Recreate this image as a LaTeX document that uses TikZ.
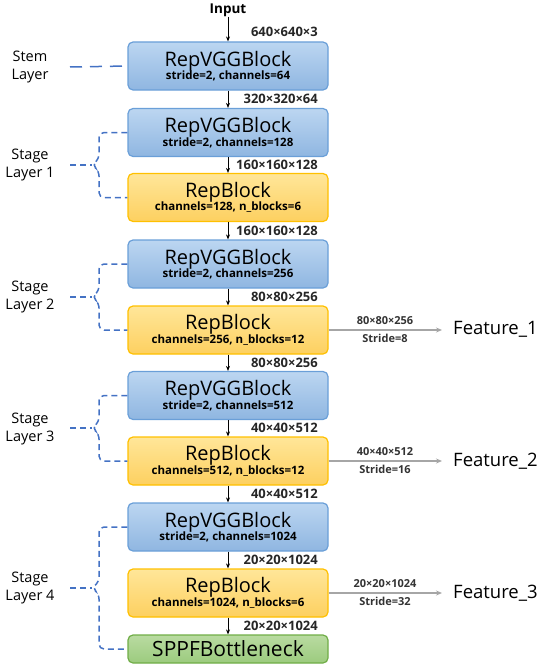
\documentclass[tikz,border=0pt]{standalone}
\usepackage{fontspec}
\setmainfont{Open Sans}
\usetikzlibrary{arrows.meta}
\definecolor{bborder}{HTML}{6A9FD8}
\definecolor{btop}{HTML}{BCD6F1}
\definecolor{bbot}{HTML}{8FB6E1}
\definecolor{yborder}{HTML}{FFC000}
\definecolor{ytop}{HTML}{FFE699}
\definecolor{ybot}{HTML}{FDD060}
\definecolor{gborder}{HTML}{70AD47}
\definecolor{gtop}{HTML}{B9DBA1}
\definecolor{gbot}{HTML}{9CCB7E}
\definecolor{dashblue}{HTML}{4472C4}
\definecolor{featgray}{HTML}{A6A6A6}
\tikzset{
  box/.style={rounded corners=5pt, minimum width=200pt, minimum height=48pt, line width=1.2pt, align=center, inner sep=0pt},
  bluebox/.style={box, draw=bborder, top color=btop, bottom color=bbot},
  yelbox/.style={box, draw=yborder, top color=ytop, bottom color=ybot},
  grnbox/.style={box, draw=gborder, top color=gtop, bottom color=gbot, minimum height=28pt},
  arr/.style={-{Stealth[length=5pt,width=4pt]}, line width=1pt, black},
  farr/.style={-{Stealth[length=6pt,width=5pt]}, line width=1.2pt, featgray},
  dim/.style={anchor=east, font=\fontsize{13}{13}\selectfont\bfseries, text=black!85, inner sep=0pt},
  fdim/.style={font=\fontsize{11}{13}\selectfont\bfseries, text=black!80, inner sep=0pt, align=center},
  feat/.style={anchor=west, font=\fontsize{18.5}{20}\selectfont, inner sep=0pt},
  side/.style={font=\fontsize{14.5}{18}\selectfont, align=center, inner sep=0pt},
  brace/.style={dashblue, line width=1.5pt, dash pattern=on 6pt off 4pt, rounded corners=5pt},
  stem/.style={dashblue, line width=1.5pt, dash pattern=on 12pt off 8pt},
}
\newcommand{\ttl}[1]{{\fontsize{20}{20}\selectfont #1}}
\newcommand{\sub}[1]{{\fontsize{11.5}{12}\selectfont\bfseries #1}}
\begin{document}
\begin{tikzpicture}[x=1pt,y=-1pt]
\useasboundingbox (0,0) rectangle (550,669);
% input
\node[font=\fontsize{13.5}{14}\selectfont\bfseries, inner sep=0pt] (input) at (228,10) {Input};
% boxes
\node[bluebox] (b1) at (228,66) {\ttl{RepVGGBlock}\\[-1pt]\sub{stride=2, channels=64}};
\node[bluebox] (b2) at (228,132.5) {\ttl{RepVGGBlock}\\[-1pt]\sub{stride=2, channels=128}};
\node[yelbox] (b3) at (228,197.5) {\ttl{RepBlock}\\[-1pt]\sub{channels=128, n\_blocks=6}};
\node[bluebox] (b4) at (228,264) {\ttl{RepVGGBlock}\\[-1pt]\sub{stride=2, channels=256}};
\node[yelbox] (b5) at (228,330) {\ttl{RepBlock}\\[-1pt]\sub{channels=256, n\_blocks=12}};
\node[bluebox] (b6) at (228,395.5) {\ttl{RepVGGBlock}\\[-1pt]\sub{stride=2, channels=512}};
\node[yelbox] (b7) at (228,461) {\ttl{RepBlock}\\[-1pt]\sub{channels=512, n\_blocks=12}};
\node[bluebox] (b8) at (228,527) {\ttl{RepVGGBlock}\\[-1pt]\sub{stride=2, channels=1024}};
\node[yelbox] (b9) at (228,593) {\ttl{RepBlock}\\[-1pt]\sub{channels=1024, n\_blocks=6}};
\node[grnbox, font=\fontsize{21}{21}\selectfont] (b10) at (228,649) {SPPFBottleneck};
% arrows
\draw[arr] (input) -- (b1);
\draw[arr] (b1) -- (b2);
\draw[arr] (b2) -- (b3);
\draw[arr] (b3) -- (b4);
\draw[arr] (b4) -- (b5);
\draw[arr] (b5) -- (b6);
\draw[arr] (b6) -- (b7);
\draw[arr] (b7) -- (b8);
\draw[arr] (b8) -- (b9);
\draw[arr] (b9) -- (b10);
% dimension labels
\node[dim] (d0) at (318,32) {640×640×3};
\node[dim] (d1) at (318,99) {320×320×64};
\node[dim] (d2) at (318,165) {160×160×128};
\node[dim] (d3) at (318,231) {160×160×128};
\node[dim] (d4) at (318,297) {80×80×256};
\node[dim] (d5) at (318,363) {80×80×256};
\node[dim] (d6) at (318,428) {40×40×512};
\node[dim] (d7) at (318,494) {40×40×512};
\node[dim] (d8) at (318,560) {20×20×1024};
\node[dim] (d9) at (318,626) {20×20×1024};
% features
\coordinate (f1e) at (442,330);
\coordinate (f2e) at (442,461);
\coordinate (f3e) at (442,593);
\draw[farr] (b5.east) -- (f1e);
\draw[farr] (b7.east) -- (f2e);
\draw[farr] (b9.east) -- (f3e);
\node[fdim] (fd1a) at (385,321) {80×80×256};
\node[fdim] (fd1b) at (385,338) {Stride=8};
\node[fdim] (fd2a) at (385,452) {40×40×512};
\node[fdim] (fd2b) at (385,469) {Stride=16};
\node[fdim] (fd3a) at (385,584) {20×20×1024};
\node[fdim] (fd3b) at (385,601) {Stride=32};
\node[feat] (F1) at (453,329) {Feature\_1};
\node[feat] (F2) at (453,461) {Feature\_2};
\node[feat] (F3) at (453,593) {Feature\_3};
% side labels
\node[side] (s0) at (30,67) {Stem\\Layer};
\node[side] (s1) at (30,165) {Stage\\Layer 1};
\node[side] (s2) at (30,297) {Stage\\Layer 2};
\node[side] (s3) at (30,429) {Stage\\Layer 3};
\node[side] (s4) at (30,588) {Stage\\Layer 4};
% stem dashed
\coordinate (s0e) at (70,67);
\draw[stem] (s0e) -- (b1.west);
% braces
\coordinate (m1) at (92,165);
\coordinate (m2) at (92,297);
\coordinate (m3) at (92,428);
\coordinate (m4) at (92,588);
\coordinate (l1) at (70,165);
\coordinate (l2) at (70,297);
\coordinate (l3) at (70,428);
\coordinate (l4) at (70,588);
\draw[brace] (b2.west) -| (99,159) -- (m1) -- (99,171) |- (b3.west);
\draw[brace] (l1) -- (m1);
\draw[brace] (b4.west) -| (99,291) -- (m2) -- (99,303) |- (b5.west);
\draw[brace] (l2) -- (m2);
\draw[brace] (b6.west) -| (99,422) -- (m3) -- (99,434) |- (b7.west);
\draw[brace] (l3) -- (m3);
\draw[brace] (b8.west) -| (99,582) -- (m4) -- (99,594) |- (b10.west);
\draw[brace] (l4) -- (m4);
\end{tikzpicture}
\end{document}
